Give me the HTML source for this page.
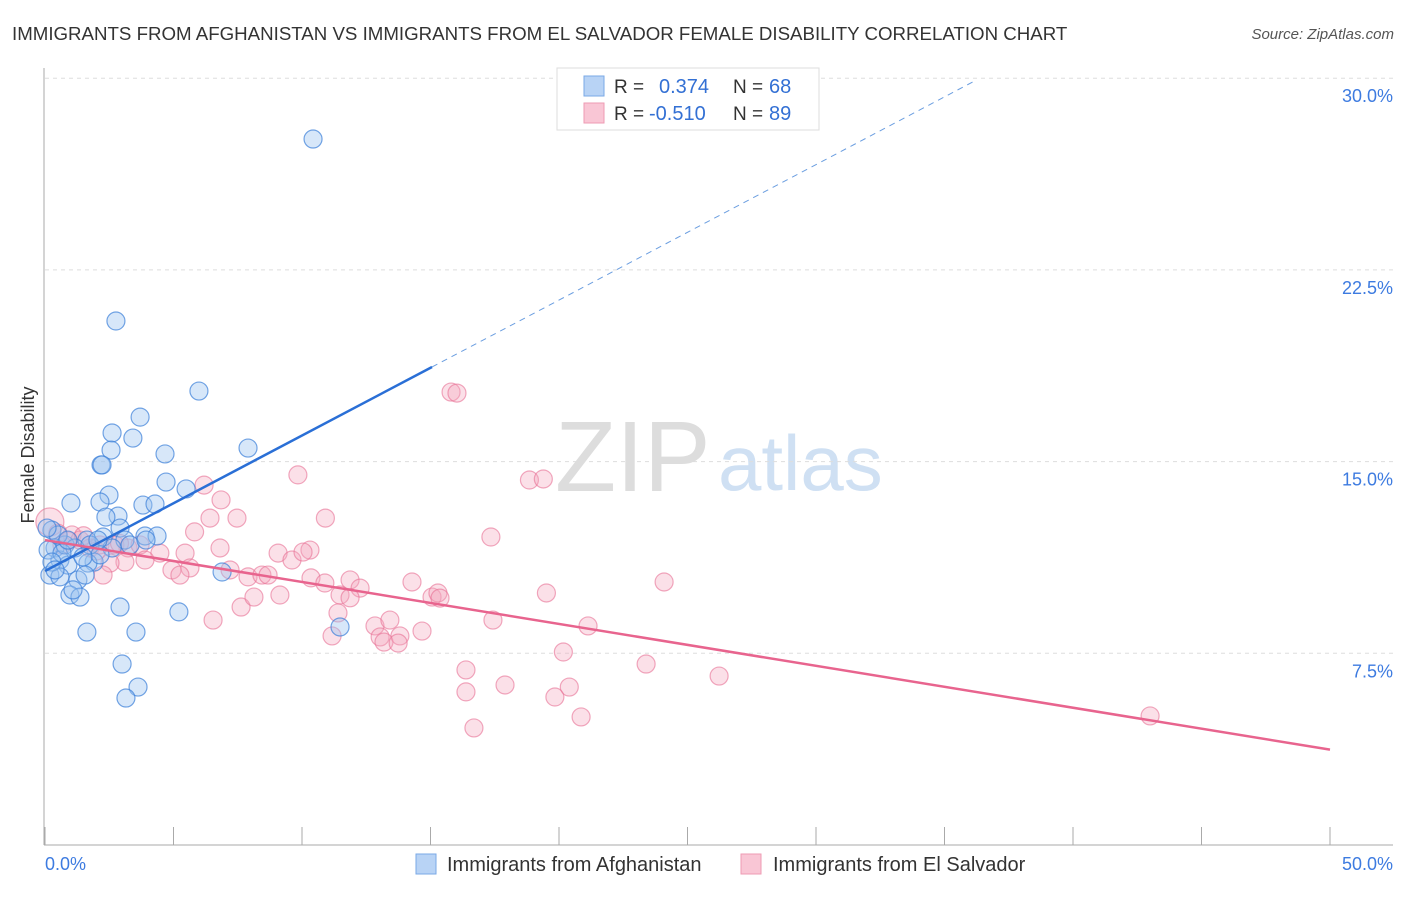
<!DOCTYPE html>
<html><head><meta charset="utf-8"><style>
body{margin:0;background:#fff;font-family:"Liberation Sans",sans-serif;}
svg text{font-family:"Liberation Sans",sans-serif;}
</style></head><body>
<svg id="chart" width="1406" height="892" xmlns="http://www.w3.org/2000/svg">
<text x="12" y="40" font-size="18.7" fill="#333">IMMIGRANTS FROM AFGHANISTAN VS IMMIGRANTS FROM EL SALVADOR FEMALE DISABILITY CORRELATION CHART</text>
<text x="1394" y="39" font-size="15" fill="#555" text-anchor="end" font-style="italic">Source: ZipAtlas.com</text>
<text x="555" y="491" font-size="100" fill="#ddd" font-family="Liberation Serif, serif">ZIP</text>
<text x="718" y="490" font-size="78" fill="#cfe0f3">atlas</text>
<text transform="translate(34,455) rotate(-90)" font-size="18" fill="#333" text-anchor="middle">Female Disability</text>
<g id="grid"></g><g id="ticks"></g><g id="pts"></g><g id="lines"></g>
<g>
<rect x="557" y="68" width="262" height="62" fill="#fff" stroke="#ddd"/>
<rect x="584" y="76" width="20" height="20" fill="#b8d3f5" stroke="#7aa8e6"/>
<rect x="584" y="103" width="20" height="20" fill="#f9c6d5" stroke="#ee9bb3"/>
<text x="614" y="93" font-size="19" fill="#333">R =</text><text x="659" y="93" font-size="20" fill="#3370d4">0.374</text>
<text x="733" y="93" font-size="19" fill="#333">N =</text><text x="769" y="93" font-size="20" fill="#3370d4">68</text>
<text x="614" y="120" font-size="19" fill="#333">R =</text><text x="649" y="120" font-size="20" fill="#3370d4">-0.510</text>
<text x="733" y="120" font-size="19" fill="#333">N =</text><text x="769" y="120" font-size="20" fill="#3370d4">89</text>
</g>
<g>
<rect x="416" y="854" width="20" height="20" fill="#b8d3f5" stroke="#7aa8e6"/>
<text x="447" y="871" font-size="20" fill="#333">Immigrants from Afghanistan</text>
<rect x="741" y="854" width="20" height="20" fill="#f9c6d5" stroke="#ee9bb3"/>
<text x="773" y="871" font-size="20" fill="#333">Immigrants from El Salvador</text>
</g>
</svg>
<script>
const yTicks=[7.5,15,22.5,30];
const yTickLabels=["7.5%","15.0%","22.5%","30.0%"];
const xLabels=["0.0%","50.0%"];
const blueX=[10.43,2.76,5.99,3.70,2.61,3.42,2.57,4.67,2.18,7.90,4.71,5.49,2.49,1.01,2.14,3.81,4.28,2.84,2.37,2.92,2.26,3.89,4.36,3.11,1.63,0.27,0.39,0.58,0.89,1.91,0.19,0.58,1.28,1.67,0.97,1.36,1.09,1.56,6.89,11.48,2.92,5.21,1.63,3.54,3.00,3.62,3.15,0.12,0.78,1.17,1.75,2.61,3.31,3.93,0.66,0.27,2.14,0.39,1.48,0.51,0.08,2.06,0.89,2.22];
const blueY=[27.62,20.50,17.76,16.74,16.12,15.92,15.45,15.30,14.87,15.53,14.20,13.93,13.69,13.38,13.42,13.30,13.34,12.87,12.83,12.40,12.05,12.09,12.09,11.93,11.93,12.32,11.62,11.15,10.95,11.07,10.56,10.49,10.37,11.03,9.78,9.70,9.98,10.56,10.68,8.53,9.31,9.12,8.33,8.33,7.08,6.18,5.75,11.54,11.74,11.62,11.74,11.62,11.74,11.93,11.42,11.07,11.35,10.76,11.27,12.13,12.40,11.93,11.93,14.87];
const pinkX=[0.19,1.05,1.36,0.66,1.75,2.14,2.72,3.23,3.70,4.47,3.89,3.11,2.53,2.26,6.19,6.85,7.47,6.42,5.82,6.81,5.45,5.64,4.94,5.25,7.20,6.54,7.63,8.13,7.90,8.44,8.68,9.14,9.07,9.61,9.84,10.91,10.31,10.04,10.35,10.89,11.48,11.87,12.26,11.87,11.40,11.17,12.84,13.04,13.19,13.42,13.81,13.74,14.67,14.28,15.06,15.29,15.37,15.80,16.03,17.35,17.43,16.38,16.38,16.69,17.90,18.85,19.39,19.51,20.17,20.40,19.84,20.86,21.13,23.39,24.09,26.23,43.00,0.5,0.9,1.5,2.0,2.9];
const pinkY=[12.64,12.13,11.93,11.74,11.62,11.74,11.74,11.62,11.74,11.42,11.15,11.07,11.03,10.56,14.08,13.50,12.79,12.79,12.25,11.62,11.42,10.84,10.76,10.56,10.76,8.80,9.31,9.70,10.49,10.56,10.56,9.78,11.42,11.15,14.48,12.79,11.54,11.46,10.45,10.25,9.78,10.37,10.05,9.67,9.08,8.18,8.57,8.14,7.94,8.80,8.18,7.90,8.37,10.29,9.70,9.86,9.66,17.72,17.68,12.05,8.80,6.85,5.99,4.58,6.26,14.28,14.32,9.86,7.55,6.18,5.79,5.01,8.57,7.08,10.29,6.61,5.05,12.2,11.9,12.1,11.5,11.8];
const blueFit=[10.72,0.53];
const pinkFit=[11.93,-0.164];
const NS="http://www.w3.org/2000/svg";
const X=v=>45+v*25.7, Y=v=>845-v*25.56;
function mk(tag,attrs,parent){const e=document.createElementNS(NS,tag);for(const k in attrs)e.setAttribute(k,attrs[k]);parent.appendChild(e);return e;}
const g=document.getElementById('grid'),t=document.getElementById('ticks'),p=document.getElementById('pts'),l=document.getElementById('lines');
yTicks.forEach((v,i)=>{
 const ln=mk('line',{x1:45,x2:1393,y1:Y(v),y2:Y(v),stroke:'#ddd','stroke-dasharray':'4,4'},g);
 
 
 const tx=mk('text',{x:1393,y:Y(v)+24,'font-size':18,fill:'#3d7be0','text-anchor':'end'},t);tx.textContent=yTickLabels[i];
 
 
});
mk('line',{x1:44,x2:44,y1:68,y2:845,stroke:'#aaa'},t);
mk('line',{x1:44,x2:1393,y1:845,y2:845,stroke:'#aaa'},t);
for(let v=0;v<=50;v+=5){const tk=mk('line',{x1:X(v),x2:X(v),y1:827,y2:845,stroke:'#aaa'},t);
 
 }
const xl0=mk('text',{x:45,y:870,'font-size':18,fill:'#3d7be0'},t);xl0.textContent=xLabels[0];


const xl1=mk('text',{x:1393,y:870,'font-size':18,fill:'#3d7be0','text-anchor':'end'},t);xl1.textContent=xLabels[1];


pinkX.forEach((x,i)=>{const c=mk('circle',{cx:X(x),cy:Y(pinkY[i]),r:i==0?14:9,fill:'#f4a7bd','fill-opacity':0.35,stroke:'#e86f94','stroke-opacity':0.6,'stroke-width':1.2},p);
 
 });
blueX.forEach((x,i)=>{const c=mk('circle',{cx:X(x),cy:Y(blueY[i]),r:9,fill:'#9cc2f0','fill-opacity':0.4,stroke:'#3a7fd8','stroke-opacity':0.7,'stroke-width':1.2},p);
 
 });
const b1=mk('line',{x1:X(0),y1:Y(blueFit[0]),x2:X(15.06),y2:Y(blueFit[0]+blueFit[1]*15.06),stroke:'#2a6fd6','stroke-width':2.5},l);


const b2=mk('line',{x1:X(15.06),y1:Y(blueFit[0]+blueFit[1]*15.06),x2:X(36.2),y2:Y(blueFit[0]+blueFit[1]*36.2),stroke:'#6b9ee0','stroke-width':1,'stroke-dasharray':'6,5'},l);


const pl=mk('line',{x1:X(0),y1:Y(pinkFit[0]),x2:X(50),y2:Y(pinkFit[0]+pinkFit[1]*50),stroke:'#e8648e','stroke-width':2.5},l);


</script>
</body></html>
